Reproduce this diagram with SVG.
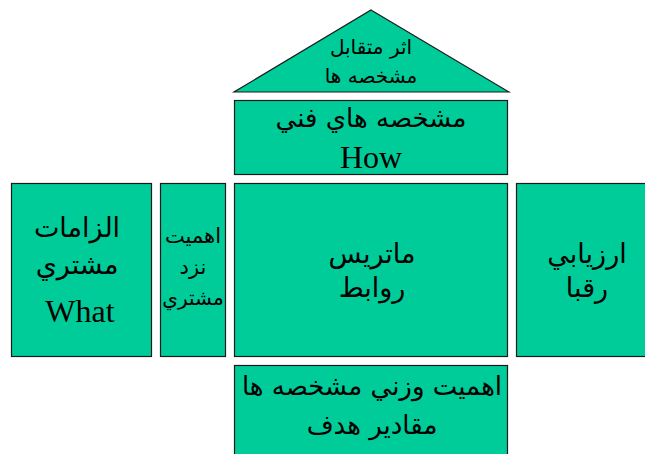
<svg xmlns="http://www.w3.org/2000/svg" width="645" height="454" viewBox="0 0 645 454">
  <style>
    .box { fill: #00CC99; stroke: #1a1a1a; stroke-width: 1.2; }
    .ar { font-family: "DejaVu Sans", "Liberation Sans", sans-serif; fill: #000; text-anchor: middle; }
    .lat { font-family: "Liberation Serif", "DejaVu Serif", serif; fill: #000; text-anchor: middle; }
  </style>
  <rect width="645" height="454" fill="#ffffff"/>

  <!-- roof: correlation between characteristics -->
  <g id="roof">
    <polygon class="box" points="371,10 509,92 234,92"/>
    <text class="ar" x="371" y="54" font-size="20">اثر متقابل</text>
    <text class="ar" x="371" y="83" font-size="20">مشخصه ها</text>
  </g>

  <!-- technical characteristics (How) -->
  <g id="how">
    <rect class="box" x="234.5" y="100.5" width="273" height="74"/>
    <text class="ar" x="371" y="127" font-size="26">مشخصه هاي فني</text>
    <text class="lat" x="371" y="168" font-size="32">How</text>
  </g>

  <!-- customer requirements (What) -->
  <g id="what">
    <rect class="box" x="11.5" y="183.5" width="140" height="173"/>
    <text class="ar" x="77" y="237" font-size="27">الزامات</text>
    <text class="ar" x="77" y="274" font-size="27">مشتري</text>
    <text class="lat" x="80" y="322" font-size="32">What</text>
  </g>

  <!-- importance to customer -->
  <g id="importance">
    <rect class="box" x="160.5" y="183.5" width="65" height="173"/>
    <text class="ar" x="193" y="243" font-size="21">اهميت</text>
    <text class="ar" x="193" y="274" font-size="21">نزد</text>
    <text class="ar" x="193" y="305" font-size="20">مشتري</text>
  </g>

  <!-- relationship matrix -->
  <g id="matrix">
    <rect class="box" x="234.5" y="183.5" width="273" height="173"/>
    <text class="ar" x="372" y="263" font-size="27">ماتريس</text>
    <text class="ar" x="372" y="297" font-size="27">روابط</text>
  </g>

  <!-- competitor evaluation -->
  <g id="ranking">
    <rect class="box" x="516.5" y="183.5" width="140" height="173"/>
    <text class="ar" x="587" y="263" font-size="27">ارزيابي</text>
    <text class="ar" x="587" y="297" font-size="27">رقبا</text>
  </g>

  <!-- weighted importance and target values -->
  <g id="targets">
    <rect class="box" x="234.5" y="365.5" width="273" height="100"/>
    <text class="ar" x="372" y="395" font-size="26">اهميت وزني مشخصه ها</text>
    <text class="ar" x="372" y="434" font-size="26">مقادير هدف</text>
  </g>

  <g id="connectors"></g>
</svg>
